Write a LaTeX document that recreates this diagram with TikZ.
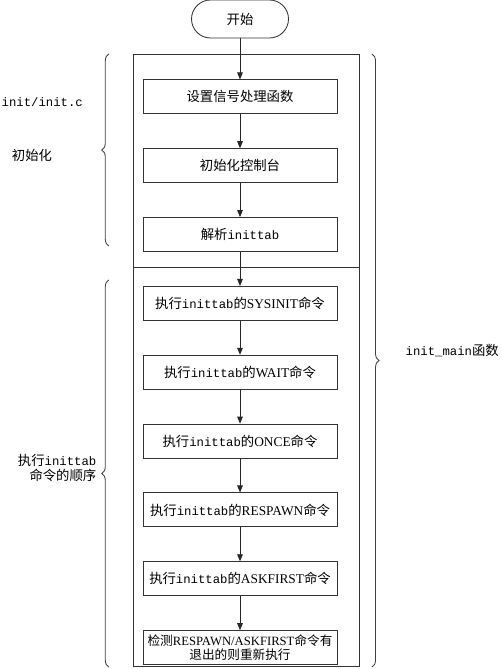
\documentclass[tikz,border=0pt]{standalone}
\usepackage{fontspec}
\setmainfont{Liberation Serif}
\setmonofont[Scale=0.92]{Liberation Mono}
\newfontfamily\cjk{Noto Sans CJK SC}
\newcommand{\zh}[1]{{\cjk #1}}
\usetikzlibrary{arrows.meta, positioning, calc, decorations.pathreplacing}
\tikzset{
  block/.style = {rectangle, draw=black!80, line width=0.6pt, minimum height=0.85cm, minimum width=4.85cm, align=center, inner sep=1pt, font=\fontsize{9.5}{11}\selectfont},
  terminal/.style = {rectangle, rounded corners=0.475cm, draw=black!80, line width=0.6pt, minimum height=0.95cm, minimum width=2.425cm, font=\fontsize{9.5}{11}\selectfont},
  arrow/.style = {-{Triangle[length=5pt, width=4pt]}, line width=0.6pt, black!85},
  brace/.style = {decorate, decoration={brace, amplitude=5pt}, line width=0.6pt, black!75},
  note/.style = {font=\fontsize{9.5}{11}\selectfont, inner sep=1pt}
}
\begin{document}
\begin{tikzpicture}[node distance=0.85cm]
\useasboundingbox (0,0) rectangle (12.5,-16.725);

\node[terminal] (start) at (6,-0.475) {\zh{开始}};

\node[block, below=1.025cm of start] (signal) {\zh{设置信号处理函数}};
\node[block, below=of signal] (console) {\zh{初始化控制台}};
\node[block, below=of console] (parse) {\zh{解析}\texttt{inittab}};
\node[block, below=of parse] (sysinit) {\zh{执行}\texttt{inittab}\zh{的}SYSINIT\zh{命令}};
\node[block, below=of sysinit] (wait) {\zh{执行}\texttt{inittab}\zh{的}WAIT\zh{命令}};
\node[block, below=of wait] (once) {\zh{执行}\texttt{inittab}\zh{的}ONCE\zh{命令}};
\node[block, below=of once] (respawn) {\zh{执行}\texttt{inittab}\zh{的}RESPAWN\zh{命令}};
\node[block, below=of respawn] (askfirst) {\zh{执行}\texttt{inittab}\zh{的}ASKFIRST\zh{命令}};
\node[block, below=of askfirst, font=\fontsize{9}{10.5}\selectfont] (check) {\zh{检测}RESPAWN/ASKFIRST\zh{命令有}\\\zh{退出的则重新执行}};

% outer frame of init_main
\coordinate (ftl) at (3.325,-1.35);
\coordinate (fbr) at (8.975,-16.65);
\draw[line width=0.6pt, black!80] (ftl) rectangle (fbr);
\coordinate (split) at ($(parse.south)!0.45!(sysinit.north)$);
\draw[line width=0.6pt, black!80] (split -| ftl) -- (split -| fbr);

\draw[arrow] (start) -- (signal);
\draw[arrow] (signal) -- (console);
\draw[arrow] (console) -- (parse);
\draw[arrow] (parse) -- (sysinit);
\draw[arrow] (sysinit) -- (wait);
\draw[arrow] (wait) -- (once);
\draw[arrow] (once) -- (respawn);
\draw[arrow] (respawn) -- (askfirst);
\draw[arrow] (askfirst) -- (check);

% braces
\coordinate (b1top) at (2.72,-1.35);
\coordinate (b1bot) at (2.72,-6.15);
\coordinate (b2top) at (2.72,-7.0);
\coordinate (b2bot) at (2.72,-16.675);
\coordinate (b3top) at (9.3,-1.35);
\coordinate (b3bot) at (9.3,-16.675);
\draw[brace] (b1bot) -- (b1top);
\draw[brace] (b2bot) -- (b2top);
\draw[brace] (b3top) -- (b3bot);

\node[note, anchor=west] (initc) at (0,-2.55) {\texttt{init/init.c}};
\node[note] (initlbl) at (0.8,-3.875) {\zh{初始化}};
\node[note, anchor=east, align=right] (order) at (2.45,-11.7) {\zh{执行}\texttt{inittab}\\\zh{命令的顺序}};
\node[note, anchor=west] (mainlbl) at (10.1,-8.775) {\texttt{init\_main}\zh{函数}};

\end{tikzpicture}
\end{document}
